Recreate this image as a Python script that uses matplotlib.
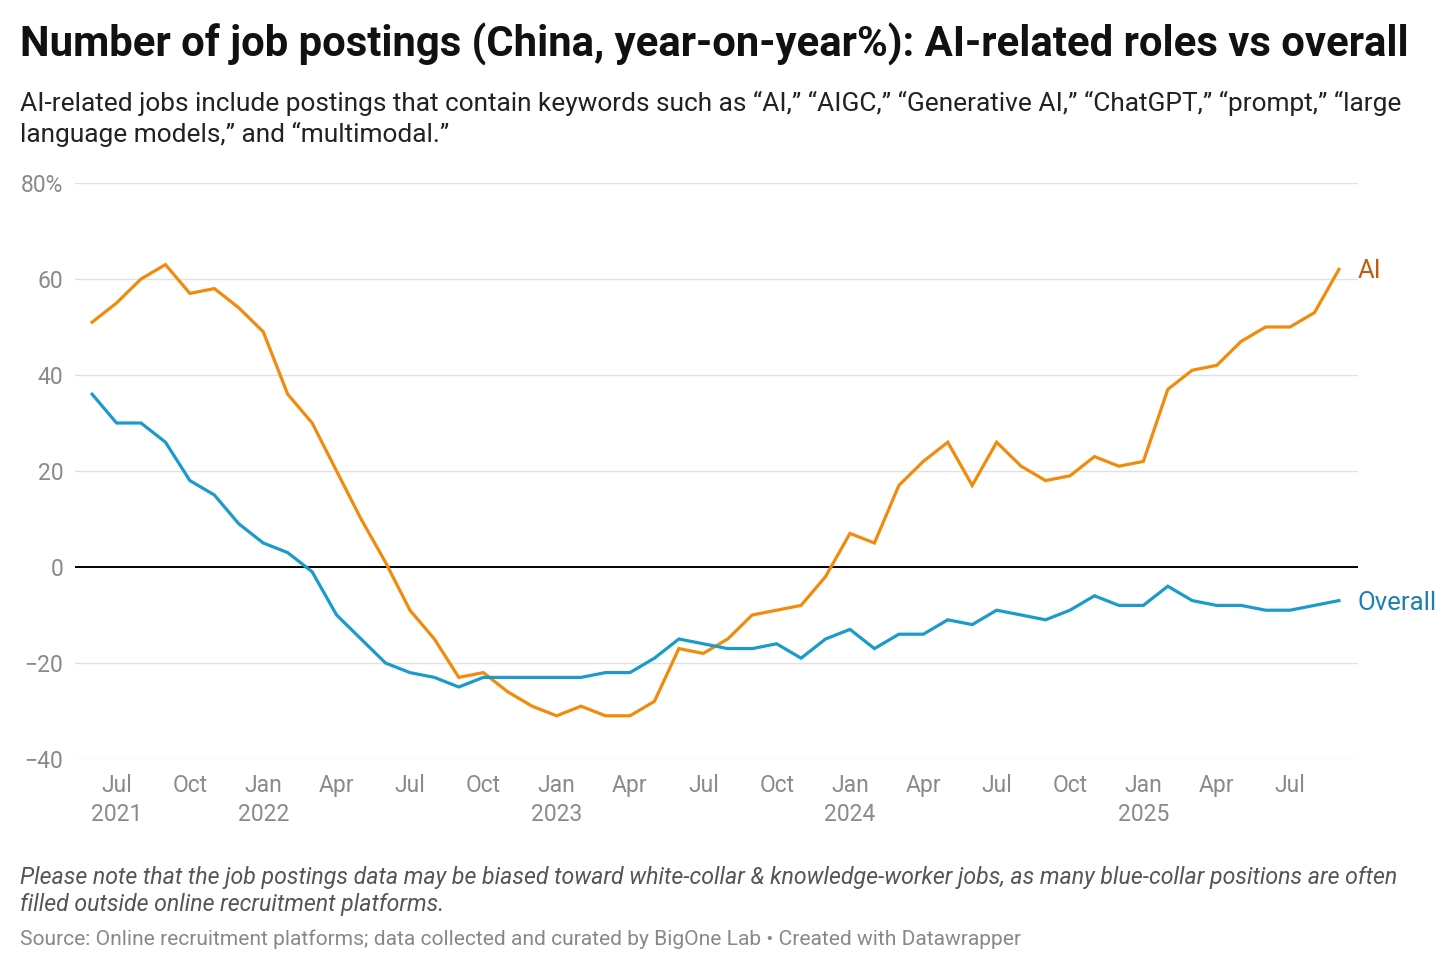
import numpy as np
import matplotlib
matplotlib.use("Agg")
import matplotlib.pyplot as plt

plt.rcParams['font.family'] = ['Roboto', 'DejaVu Sans']

#%% data: monthly, Jun 2021 .. Sep 2025 (year-on-year %)
months = ['2021-06', '2021-07', '2021-08', '2021-09', '2021-10', '2021-11', '2021-12',
          '2022-01', '2022-02', '2022-03', '2022-04', '2022-05', '2022-06',
          '2022-07', '2022-08', '2022-09', '2022-10', '2022-11', '2022-12',
          '2023-01', '2023-02', '2023-03', '2023-04', '2023-05', '2023-06',
          '2023-07', '2023-08', '2023-09', '2023-10', '2023-11', '2023-12',
          '2024-01', '2024-02', '2024-03', '2024-04', '2024-05', '2024-06',
          '2024-07', '2024-08', '2024-09', '2024-10', '2024-11', '2024-12',
          '2025-01', '2025-02', '2025-03', '2025-04', '2025-05', '2025-06',
          '2025-07', '2025-08', '2025-09']

ai = [51, 55, 60, 63, 57, 58, 54,
      49, 36, 30, 20, 10, 1, -9, -15, -23, -22, -26, -29,
      -31, -29, -31, -31, -28, -17, -18, -15, -10, -9, -8, -2,
      7, 5, 17, 22, 26, 17, 26, 21, 18, 19, 23, 21,
      22, 37, 41, 42, 47, 50, 50, 53, 62]

overall = [36, 30, 30, 26, 18, 15, 9,
           5, 3, -1, -10, -15, -20, -22, -23, -25, -23, -23, -23,
           -23, -23, -22, -22, -19, -15, -16, -17, -17, -16, -19, -15,
           -13, -17, -14, -14, -11, -12, -9, -10, -11, -9, -6, -8,
           -8, -4, -7, -8, -8, -9, -9, -8, -7]

month_names = ['Jan', 'Feb', 'Mar', 'Apr', 'May', 'Jun',
               'Jul', 'Aug', 'Sep', 'Oct', 'Nov', 'Dec']
y_ticks = [-40, -20, 0, 20, 40, 60, 80]

#%% figure
orange = '#f28b0c'
blue = '#1b9bca'

fig = plt.figure(figsize=(14.56, 9.71), dpi=100)
ax = fig.add_axes([75/1456, 1 - 759/971, (1358 - 75)/1456, (759 - 183)/971])

x = np.arange(len(months))
ax.plot(x, ai, color=orange, lw=2.3, solid_joinstyle='miter', zorder=3)
ax.plot(x, overall, color=blue, lw=2.3, solid_joinstyle='miter', zorder=3)

ax.set_ylim(-40, 80)
ax.set_xlim(-0.7, len(months) - 1 + 0.78)

# gridlines and zero line
for v in y_ticks:
    if v == 0:
        ax.axhline(0, color='black', lw=1.4, zorder=2)
    else:
        ax.axhline(v, color='#e1e1e1', lw=1.0, zorder=1)

ax.set_yticks(y_ticks)
ax.set_yticklabels(['\u221240', '\u221220', '0', '20', '40', '60', '80%'])

# quarterly ticks starting Jul 2021
tick_pos = []
tick_lab = []
for i, m in enumerate(months):
    yr, mo = m.split('-')
    mo = int(mo)
    if mo in (1, 4, 7, 10):
        lab = month_names[mo - 1]
        if mo == 1 or i == 1:
            lab += '\n' + yr
        tick_pos.append(i)
        tick_lab.append(lab)
ax.set_xticks(tick_pos)
ax.set_xticklabels(tick_lab, linespacing=1.3, va='top')

ax.tick_params(axis='both', length=0, labelsize=16.5, colors='#8a8a8a')
ax.tick_params(axis='x', pad=11)
ax.tick_params(axis='y', pad=8.5)
for s in ax.spines.values():
    s.set_visible(False)

# direct labels
ax.annotate('AI', (x[-1], ai[-1]), xytext=(13.5, -1), textcoords='offset points',
            color='#c45a10', fontsize=18.5, va='center', ha='left', clip_on=False)
ax.annotate('Overall', (x[-1], overall[-1]), xytext=(13.5, -1.5), textcoords='offset points',
            color='#1a80b0', fontsize=18.5, va='center', ha='left', clip_on=False)

# titles and notes
fig.text(20/1456, 1 - 44/971, 'Number of job postings (China, year-on-year%): AI-related roles vs overall',
         fontsize=30.2, fontweight='bold', va='center', ha='left', color='#111111')
fig.text(20/1456, 1 - 119/971,
         'AI-related jobs include postings that contain keywords such as \u201cAI,\u201d \u201cAIGC,\u201d '
         '\u201cGenerative AI,\u201d \u201cChatGPT,\u201d \u201cprompt,\u201d \u201clarge\n'
         'language models,\u201d and \u201cmultimodal.\u201d',
         fontsize=18.9, va='center', ha='left', color='#222222', linespacing=1.32)
fig.text(20/1456, 1 - 891/971,
         'Please note that the job postings data may be biased toward white-collar & knowledge-worker jobs, '
         'as many blue-collar positions are often\nfilled outside online recruitment platforms.',
         fontsize=16.7, style='italic', va='center', ha='left', color='#555555', linespacing=1.25)
fig.text(20/1456, 1 - 939/971,
         'Source: Online recruitment platforms; data collected and curated by BigOne Lab \u2022 Created with Datawrapper',
         fontsize=15.1, va='center', ha='left', color='#888888')

fig.savefig('out.png', dpi=100, facecolor='white')
